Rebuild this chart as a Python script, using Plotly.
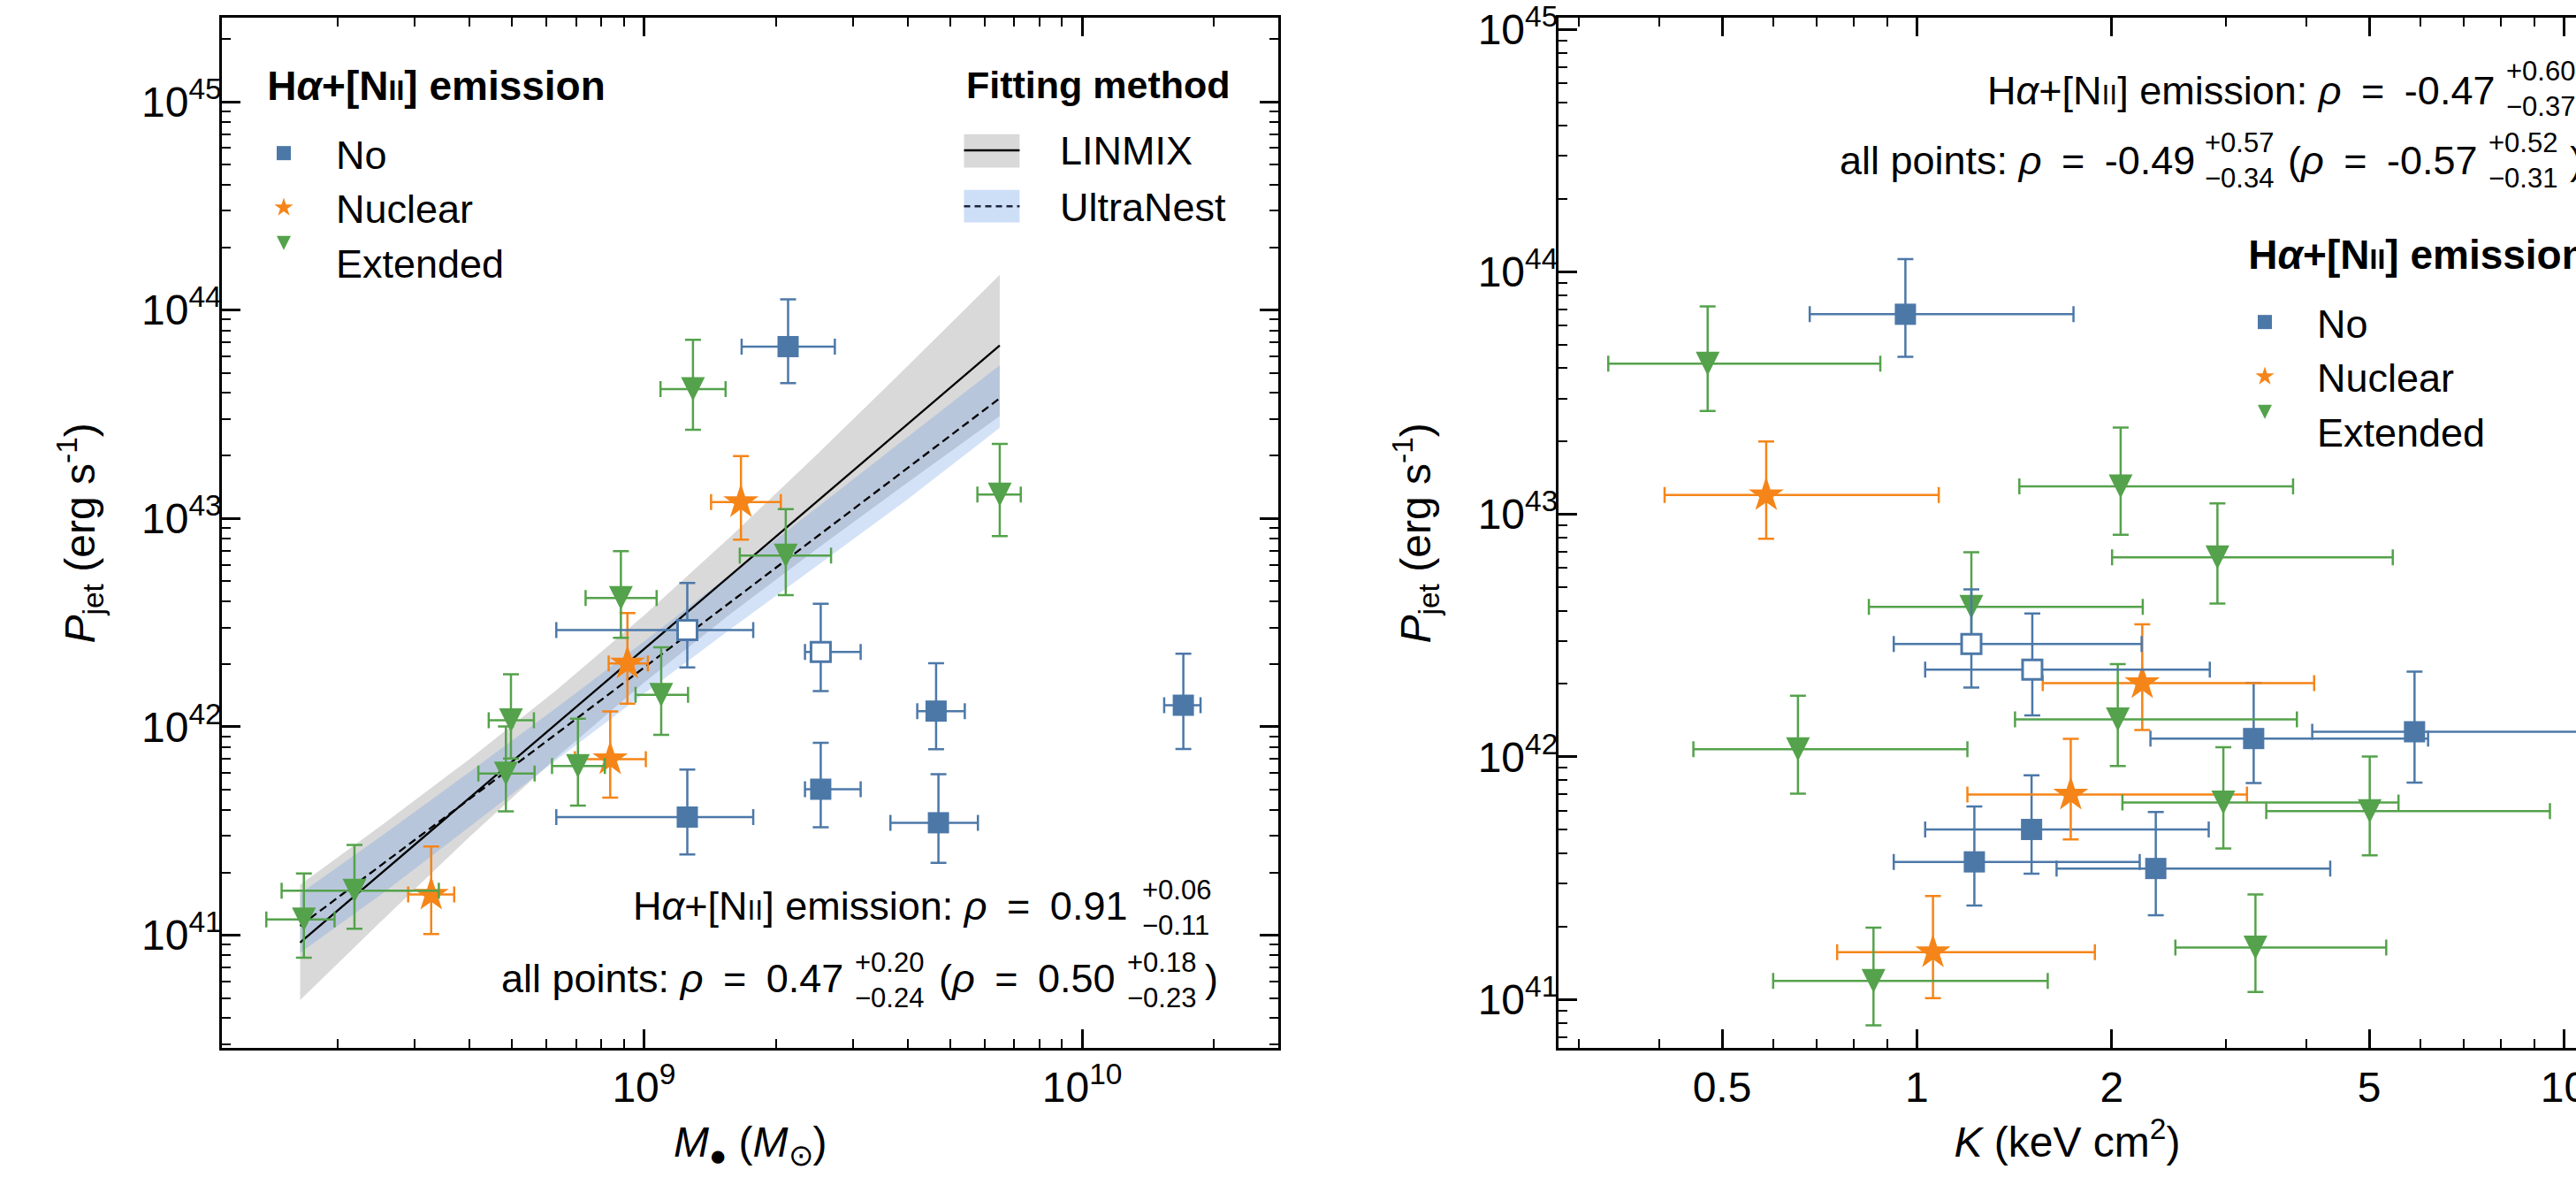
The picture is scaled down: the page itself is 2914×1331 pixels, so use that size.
import plotly.graph_objects as go

W, H = 2914, 1331
FONT = "Liberation Sans, Arial, Helvetica, sans-serif"
BLUE, ORANGE, GREEN = "#4c78a8", "#f58518", "#54a24b"

# ---------------- data ----------------
# "No" emission (filled squares)
no_M    = [2.133e9, 1.256e9, 2.532e9, 4.642e9, 4.70e9, 1.702e10]
no_M_lo = [1.671e9, 6.31e8, 2.331e9, 4.205e9, 3.652e9, 1.539e10]
no_M_hi = [2.727e9, 1.776e9, 3.123e9, 5.398e9, 5.783e9, 1.863e10]
no_P    = [6.68e43, 3.69e41, 5.02e41, 1.19e42, 3.465e41, 1.269e42]
no_P_lo = [4.46e43, 2.44e41, 3.30e41, 7.80e41, 2.223e41, 7.83e41]
no_P_hi = [1.127e44, 6.24e41, 8.39e41, 2.018e42, 5.93e41, 2.244e42]
no_K    = [0.96, 1.227, 1.504, 3.315, 2.34, 5.876]
no_K_lo = [0.683, 0.921, 1.03, 2.296, 1.644, 4.083]
no_K_hi = [1.746, 2.21, 2.825, 6.166, 4.353, 14.0]

# "No" emission (open squares)
noo_M    = [1.256e9, 2.532e9]
noo_M_lo = [6.31e8, 2.331e9]
noo_M_hi = [1.776e9, 3.123e9]
noo_P    = [2.917e42, 2.29e42]
noo_P_lo = [1.93e42, 1.483e42]
noo_P_hi = [4.9e42, 3.90e42]
noo_K    = [1.214, 1.508]
noo_K_lo = [0.921, 1.03]
noo_K_hi = [2.225, 2.836]

# "Nuclear" emission
nuc_M    = [1.665e9, 3.270e8, 8.377e8, 9.17e8]
nuc_M_lo = [1.423e9, 2.897e8, 6.96e8, 8.31e8]
nuc_M_hi = [2.053e9, 3.69e8, 1.010e9, 1.021e9]
nuc_P    = [1.2e43, 1.567e41, 6.99e41, 2.014e42]
nuc_P_lo = [7.92e42, 1.012e41, 4.57e41, 1.291e42]
nuc_P_hi = [1.995e43, 2.667e41, 1.186e42, 3.516e42]
nuc_K    = [0.585, 1.059, 1.729, 2.23]
nuc_K_lo = [0.4075, 0.753, 1.197, 1.565]
nuc_K_hi = [1.081, 1.884, 3.237, 4.111]

# "Extended" emission
ext_M    = [1.294e9, 2.107e9, 6.486e9, 1.675e8, 2.185e8, 4.972e8, 4.842e8, 7.07e8, 1.095e9, 8.86e8]
ext_M_lo = [1.091e9, 1.655e9, 5.768e9, 1.375e8, 1.49e8, 4.424e8, 4.19e8, 6.17e8, 9.568e8, 7.36e8]
ext_M_hi = [1.536e9, 2.673e9, 7.244e9, 1.968e8, 3.404e8, 5.61e8, 5.63e8, 8.144e8, 1.261e9, 1.069e9]
ext_P    = [4.18e43, 6.64e42, 1.303e43, 1.191e41, 1.635e41, 1.075e42, 5.97e41, 6.48e41, 1.426e42, 4.153e42]
ext_P_lo = [2.667e43, 4.29e42, 8.23e42, 7.81e40, 1.074e41, 7.05e41, 3.93e41, 4.19e41, 9.16e41, 2.673e42]
ext_P_hi = [7.2e43, 1.109e43, 2.28e43, 1.977e41, 2.71e41, 1.788e42, 1.004e42, 1.095e42, 2.41e42, 6.97e42]
ext_K    = [0.475, 2.914, 2.065, 0.857, 3.336, 0.655, 5.01, 2.976, 2.044, 1.214]
ext_K_lo = [0.3335, 2.003, 1.44, 0.5997, 2.509, 0.4515, 3.467, 2.078, 1.418, 0.843]
ext_K_hi = [0.878, 5.438, 3.814, 1.593, 5.313, 1.197, 9.513, 5.55, 3.866, 2.234]

# fits (log10 values)
fit_logM      = [8.2154, 8.4, 8.6, 8.8, 9.0, 9.2, 9.4, 9.6, 9.812]
linmix_logP   = [40.965, 41.296, 41.655, 42.014, 42.373, 42.732, 43.090, 43.449, 43.830]
linmix_hi     = [41.242, 41.526, 41.842, 42.176, 42.534, 42.918, 43.318, 43.728, 44.169]
linmix_lo     = [40.688, 41.066, 41.468, 41.852, 42.212, 42.546, 42.862, 43.170, 43.491]
ultra_logP    = [41.045, 41.335, 41.650, 41.966, 42.284, 42.603, 42.921, 43.239, 43.577]
ultra_hi      = [41.200, 41.475, 41.780, 42.091, 42.409, 42.733, 43.061, 43.389, 43.735]
ultra_lo      = [40.915, 41.195, 41.517, 41.841, 42.159, 42.473, 42.781, 43.089, 43.435]

# ticks
y_tickvals = [1e41, 1e42, 1e43, 1e44, 1e45]
y_ticktext = ["10<sup>41</sup>", "10<sup>42</sup>", "10<sup>43</sup>", "10<sup>44</sup>", "10<sup>45</sup>"]
m_tickvals = [1e9, 1e10]
m_ticktext = ["10<sup>9</sup>", "10<sup>10</sup>"]
k_tickvals = [0.5, 1, 2, 5, 10]
k_ticktext = ["0.5", "1", "2", "5", "10"]

# ---------------- figure ----------------
fig = go.Figure()

def p(v):
    return [10.0 ** t for t in v]

fM = p(fit_logM)
fig.add_trace(go.Scatter(x=fM + fM[::-1], y=p(linmix_hi) + p(linmix_lo)[::-1], fill="toself",
                         fillcolor="rgb(217,217,217)", line=dict(width=0), mode="lines",
                         showlegend=False, hoverinfo="skip", xaxis="x", yaxis="y"))
fig.add_trace(go.Scatter(x=fM + fM[::-1], y=p(ultra_hi) + p(ultra_lo)[::-1], fill="toself",
                         fillcolor="rgba(100,150,225,0.28)", line=dict(width=0), mode="lines",
                         showlegend=False, hoverinfo="skip", xaxis="x", yaxis="y"))
fig.add_trace(go.Scatter(x=fM, y=p(linmix_logP), mode="lines", line=dict(color="black", width=2.3),
                         showlegend=False, xaxis="x", yaxis="y"))
fig.add_trace(go.Scatter(x=fM, y=p(ultra_logP), mode="lines",
                         line=dict(color="black", width=2.3, dash="9px,5px"),
                         showlegend=False, xaxis="x", yaxis="y"))


def err(v, lo, hi, color):
    return dict(type="data", symmetric=False,
                array=[h - c for c, h in zip(v, hi)],
                arrayminus=[c - l for c, l in zip(v, lo)],
                color=color, thickness=2.5, width=9)


groups = [
    ("No", no_M, no_M_lo, no_M_hi, no_K, no_K_lo, no_K_hi, no_P, no_P_lo, no_P_hi,
     dict(symbol="square", size=24, color=BLUE), BLUE, True),
    ("No", noo_M, noo_M_lo, noo_M_hi, noo_K, noo_K_lo, noo_K_hi, noo_P, noo_P_lo, noo_P_hi,
     dict(symbol="square", size=22, color="white", line=dict(color=BLUE, width=3)), BLUE, False),
    ("Nuclear", nuc_M, nuc_M_lo, nuc_M_hi, nuc_K, nuc_K_lo, nuc_K_hi, nuc_P, nuc_P_lo, nuc_P_hi,
     dict(symbol="star", size=30, color=ORANGE), ORANGE, True),
    ("Extended", ext_M, ext_M_lo, ext_M_hi, ext_K, ext_K_lo, ext_K_hi, ext_P, ext_P_lo, ext_P_hi,
     dict(symbol="arrow-down", size=27, standoff=13.5, color=GREEN), GREEN, True),
]
order = [0, 2, 3, 1]
for idx in order:
    name, M, Ml, Mh, K, Kl, Kh, P, Pl, Ph, mk, col, leg = groups[idx]
    fig.add_trace(go.Scatter(x=M, y=P, mode="markers", name=name, marker=mk,
                             error_x=err(M, Ml, Mh, col), error_y=err(P, Pl, Ph, col),
                             showlegend=leg, legend="legend", xaxis="x", yaxis="y"))
for idx in order:
    name, M, Ml, Mh, K, Kl, Kh, P, Pl, Ph, mk, col, leg = groups[idx]
    fig.add_trace(go.Scatter(x=K, y=P, mode="markers", name=name, marker=mk,
                             error_x=err(K, Kl, Kh, col), error_y=err(P, Pl, Ph, col),
                             showlegend=leg, legend="legend2", xaxis="x2", yaxis="y2"))

# ---------------- axes ----------------
def minor_vals(e0, e1, mults=range(2, 10)):
    return [float(m) * 10.0 ** e for e in range(e0, e1) for m in mults]

axis_common = dict(type="log", showline=True, linecolor="black", linewidth=3, ticks="inside",
                   ticklen=21, tickwidth=2.5, tickcolor="black", showgrid=False, zeroline=False,
                   tickfont=dict(family=FONT, size=48, color="black"), tickmode="array",
                   ticklabeloverflow="allow")
minor_common = dict(ticks="inside", ticklen=10, tickwidth=2.2, tickcolor="black", showgrid=False)

def fx(px):
    return px / W

def fy(py):
    return 1 - py / H

ydom = [fy(1185.3), fy(20.4)]
NII = "N<span style='font-size:32px'>II</span>"
NB = "\u00a0"
LEG_TITLE = ("<sup><span style='font-size:46px'>" + NB * 3 +
             "<b>H<i>α</i>+[N<span style='font-size:32px'>II</span>] emission</b></span></sup>")

fig.update_layout(
    width=W, height=H,
    margin=dict(l=0, r=0, t=0, b=0, autoexpand=False),
    paper_bgcolor="white", plot_bgcolor="white",
    font=dict(family=FONT, color="black"),
    xaxis=dict(axis_common, domain=[fx(251.4), fx(1446.2)], range=[8.0377, 10.448], anchor="y",
               mirror="ticks", tickvals=m_tickvals, ticktext=m_ticktext,
               minor=dict(minor_common, tickvals=minor_vals(8, 11)),
               title=dict(text="<i>M</i><sub>●</sub> (<i>M</i><sub>⊙</sub>)",
                          font=dict(family=FONT, size=48), standoff=20)),
    yaxis=dict(axis_common, domain=ydom, range=[40.458, 45.4016], anchor="x",
               mirror="ticks", tickvals=y_tickvals, ticktext=y_ticktext, ticklabelstandoff=-12,
               minor=dict(minor_common, tickvals=minor_vals(40, 46)),
               title=dict(text="<i>P</i><sub>jet</sub> (erg s<sup>-1</sup>)",
                          font=dict(family=FONT, size=48), standoff=38)),
    xaxis2=dict(axis_common, domain=[fx(1763), 1.0], range=[-0.5538, 1.0186], anchor="y2",
                mirror="ticks", tickvals=k_tickvals, ticktext=k_ticktext,
                minor=dict(minor_common, tickvals=[0.3, 0.4, 0.6, 0.7, 0.8, 0.9, 3.0, 4.0, 6.0, 7.0, 8.0, 9.0]),
                title=dict(text="<i>K</i> (keV cm<sup>2</sup>)",
                           font=dict(family=FONT, size=48), standoff=20)),
    yaxis2=dict(axis_common, domain=ydom, range=[40.799, 45.046], anchor="x2",
                mirror=False, tickvals=y_tickvals, ticktext=y_ticktext, ticklabelstandoff=-12,
                minor=dict(minor_common, tickvals=minor_vals(40, 46)),
                title=dict(text="<i>P</i><sub>jet</sub> (erg s<sup>-1</sup>)",
                           font=dict(family=FONT, size=48), standoff=38)),
    legend=dict(x=fx(262), y=fy(62), xanchor="left", yanchor="top", bgcolor="rgba(0,0,0,0)",
                font=dict(family=FONT, size=45), itemwidth=108, tracegroupgap=0,
                title=dict(text=LEG_TITLE, font=dict(family=FONT, size=58))),
    legend2=dict(x=fx(2503), y=fy(253), xanchor="left", yanchor="top", bgcolor="rgba(0,0,0,0)",
                 font=dict(family=FONT, size=45), itemwidth=108, tracegroupgap=0,
                 title=dict(text=LEG_TITLE, font=dict(family=FONT, size=58))),
)

# ---------------- annotations ----------------
def ann(text, x, y, size, xanchor="left", yanchor="middle"):
    fig.add_annotation(text=text, x=fx(x), y=fy(y), xref="paper", yref="paper", showarrow=False,
                       xanchor=xanchor, yanchor=yanchor, align="left",
                       font=dict(family=FONT, size=size, color="black"))

S = "\u2002"
# left panel
ann("H<i>α</i>+[" + NII + "] emission: <i>ρ</i>" + S + "=" + S + "0.91", 1277, 1024, 45, "right")
ann("+0.06<br>−0.11", 1290, 1026, 31)
ann("all points: <i>ρ</i>" + S + "=" + S + "0.47", 956, 1106, 45, "right")
ann("+0.20<br>−0.24", 965, 1108, 31)
ann("(<i>ρ</i>" + S + "=" + S + "0.50", 1264, 1106, 45, "right")
ann("+0.18<br>−0.23", 1273, 1108, 31)
ann(")", 1361, 1106, 45)
# right panel
ann("H<i>α</i>+[" + NII + "] emission: <i>ρ</i>" + S + "=" + S + "-0.47", 2824, 102, 45, "right")
ann("+0.60<br>−0.37", 2833, 101, 31)
ann("all points: <i>ρ</i>" + S + "=" + S + "-0.49", 2485, 182, 45, "right")
ann("+0.57<br>−0.34", 2492, 182, 31)
ann("(<i>ρ</i>" + S + "=" + S + "-0.57", 2805, 182, 45, "right")
ann("+0.52<br>−0.31", 2813, 182, 31)
ann(")", 2905, 182, 45)

# fitting-method key (left panel)
ann("<b>Fitting method</b>", 1091, 96, 43)
fig.add_shape(type="rect", xref="paper", yref="paper", x0=fx(1090.5), x1=fx(1153.4),
              y0=fy(189.5), y1=fy(151.8), fillcolor="rgb(217,217,217)", line=dict(width=0))
fig.add_shape(type="line", xref="paper", yref="paper", x0=fx(1090.5), x1=fx(1153.4),
              y0=fy(170), y1=fy(170), line=dict(color="black", width=2.5))
fig.add_shape(type="rect", xref="paper", yref="paper", x0=fx(1090.5), x1=fx(1153.4),
              y0=fy(251.5), y1=fy(214.7), fillcolor="rgb(205,222,247)", line=dict(width=0))
fig.add_shape(type="line", xref="paper", yref="paper", x0=fx(1090.5), x1=fx(1153.4),
              y0=fy(233.3), y1=fy(233.3), line=dict(color="#1c2538", width=2.5, dash="7px,5px"))
ann("LINMIX", 1197, 171, 45)
ann("UltraNest", 1197, 234, 45)

fig.write_html("out.html", config={"displayModeBar": False},
               post_script="document.body.style.margin='0';document.body.style.overflow='hidden';")
